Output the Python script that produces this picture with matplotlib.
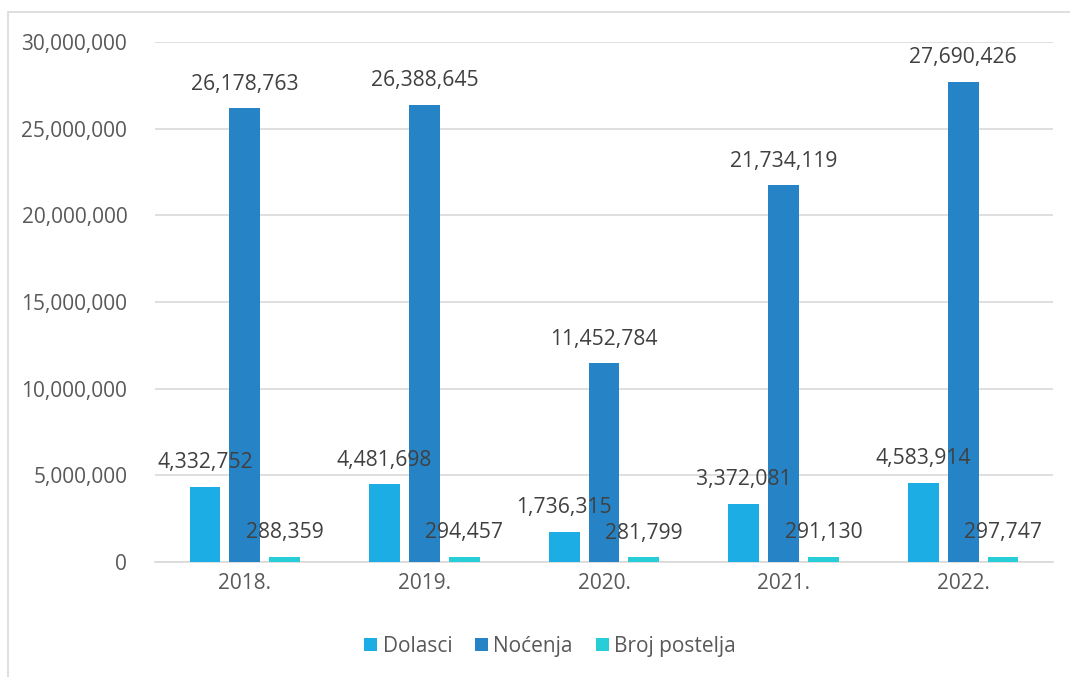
import numpy as np
import matplotlib
matplotlib.use("Agg")
import matplotlib.pyplot as plt
from matplotlib.patches import Rectangle
from matplotlib.ticker import FuncFormatter

plt.rcParams["font.family"] = ["Open Sans", "DejaVu Sans"]

# ── Data ─────────────────────────────────────────────
years     = ["2018.", "2019.", "2020.", "2021.", "2022."]
dolasci   = [4332752, 4481698, 1736315, 3372081, 4583914]
nocenja   = [26178763, 26388645, 11452784, 21734119, 27690426]
postelje  = [288359, 294457, 281799, 291130, 297747]
series_names = ["Dolasci", "Noćenja", "Broj postelja"]
colors = ["#1CADE4", "#2683C6", "#27CED7"]

fig = plt.figure(figsize=(10.7, 6.77), dpi=100)
ax = fig.add_axes([0.1449, 0.1699, 0.8391, 0.7681])

# outer chart border (cropped on the right and bottom)
fig.patches.append(Rectangle((8 / 1070, -0.1), 1.2, 1.1 - 12 / 677,
                             transform=fig.transFigure, fill=False,
                             edgecolor="#D9D9D9", linewidth=1.2))

x = np.arange(len(years))
w = 0.172
step = 0.222
for i, (vals, name, c) in enumerate(zip([dolasci, nocenja, postelje], series_names, colors)):
    pos = x + (i - 1) * step
    bars = ax.bar(pos, vals, width=w, color=c, label=name, zorder=3)
    for b, v in zip(bars, vals):
        ax.text(b.get_x() + b.get_width() / 2, v + 780000, f"{v:,}",
                ha="center", va="bottom", fontsize=15.2, color="#404040", zorder=4)

ax.set_ylim(0, 30000000)
ax.set_xlim(-0.5, len(years) - 0.5)
ax.set_yticks(np.arange(0, 30000001, 5000000))
ax.yaxis.set_major_formatter(FuncFormatter(lambda v, p: f"{int(v):,}"))
ax.set_xticks(x)
ax.set_xticklabels(years)
ax.tick_params(axis="both", length=0, labelsize=15, colors="#595959")
ax.tick_params(axis="y", pad=20)
ax.tick_params(axis="x", pad=8)
ax.grid(axis="y", color="#D9D9D9", linewidth=1.2, zorder=0)
for s in ["top", "right", "left"]:
    ax.spines[s].set_visible(False)
ax.spines["bottom"].set_color("#D9D9D9")
ax.spines["bottom"].set_linewidth(1.2)

leg = fig.legend(loc="center", bbox_to_anchor=(0.514, 0.045), ncol=3, frameon=False,
                 fontsize=15, handlelength=0.62, handleheight=0.62,
                 handletextpad=0.25, columnspacing=1.1)
for t in leg.get_texts():
    t.set_color("#595959")

plt.savefig("out.png", dpi=100)
